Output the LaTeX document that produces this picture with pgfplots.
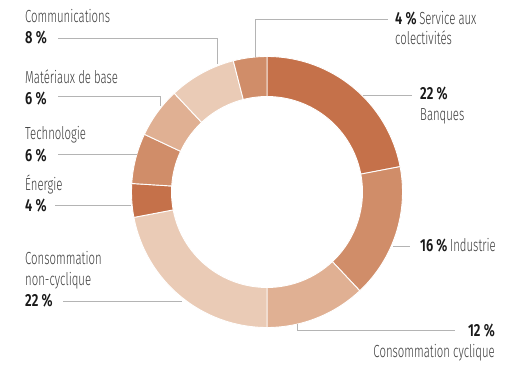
\documentclass[border=0pt]{standalone}
\usepackage{fontspec}
\usepackage{pgfplots}
\usepackage{pgfplotstable}
\pgfplotsset{compat=1.18}
\setmainfont{Fira Sans}
\newfontfamily\lightfont{Fira Sans Light}[FakeStretch=0.65]
\newfontfamily\boldfont{Fira Sans SemiBold}[FakeStretch=0.74]
\definecolor{cA}{HTML}{C5714A}
\definecolor{cB}{HTML}{D08D69}
\definecolor{cC}{HTML}{E0B093}
\definecolor{cD}{HTML}{EACBB6}
\definecolor{leader}{HTML}{B4B4B4}
\definecolor{txt}{HTML}{3A3A3A}
% sector shares (%), clockwise from 12 o'clock
\pgfplotstableread{
name value color
Banques 22 cA
Industrie 16 cB
Cyclique 12 cC
NonCyclique 22 cD
Energie 4 cA
Technologie 6 cB
Materiaux 6 cC
Communications 8 cD
Service 4 cB
}\sectors
\newcommand{\nm}[1]{{\lightfont\fontsize{17.5}{20}\selectfont\color{txt}#1}}
\newcommand{\pc}[1]{{\boldfont\fontsize{17.5}{20}\selectfont\color{black!90}#1}}
\begin{document}
\begin{tikzpicture}
\pgfplotstablegetrowsof{\sectors}
\pgfmathtruncatemacro\lastrow{\pgfplotsretval-1}
\xdef\cum{90}
\pgfplotsforeachungrouped \i in {0,...,\lastrow}{%
  \pgfplotstablegetelem{\i}{value}\of\sectors
  \let\v\pgfplotsretval
  \pgfplotstablegetelem{\i}{color}\of\sectors
  \expandafter\xdef\csname col\i\endcsname{\pgfplotsretval}%
  \expandafter\xdef\csname sa\i\endcsname{\cum}%
  \pgfmathsetmacro\nxt{\cum-3.6*\v}%
  \expandafter\xdef\csname ea\i\endcsname{\nxt}%
  \xdef\cum{\nxt}%
}
\begin{axis}[x=1pt,y=1pt,xmin=0,xmax=527,ymin=0,ymax=365,
  scale only axis,hide axis,clip=false]
\path (axis cs:0,0) rectangle (axis cs:527,365);
\pgfplotsinvokeforeach{0,...,8}{
  \fill[\csname col#1\endcsname,draw=white,line width=0.9pt]
    (axis cs:267,173) ++(\csname sa#1\endcsname:135.5pt)
    arc[start angle=\csname sa#1\endcsname,end angle=\csname ea#1\endcsname,radius=135.5pt]
    -- ++(\csname ea#1\endcsname:-40pt)
    arc[start angle=\csname ea#1\endcsname,end angle=\csname sa#1\endcsname,radius=95.5pt]
    -- cycle;
}
% leader lines (image y -> 365 - y)
\begin{scope}[leader,line width=0.6pt]
\draw (axis cs:58,327) -- (axis cs:217,327) -- (axis cs:217,301);
\draw (axis cs:255,308) -- (axis cs:255,346) -- (axis cs:388,346);
\draw (axis cs:363,270) -- (axis cs:412,270);
\draw (axis cs:393,119) -- (axis cs:410,119);
\draw (axis cs:297,41) -- (axis cs:297,35) -- (axis cs:455,35);
\draw (axis cs:63,64) -- (axis cs:182,64);
\draw (axis cs:55,159.3) -- (axis cs:131,159.3);
\draw (axis cs:58,210.7) -- (axis cs:137,210.7);
\draw (axis cs:58,268.3) -- (axis cs:160,268.3) -- (axis cs:160,259);
\end{scope}
% labels
\node[anchor=base west,inner sep=0] at (axis cs:25,342.3) {\nm{Communications}};
\node[anchor=base west,inner sep=0] at (axis cs:25,321.7) {\pc{8 \%}};
\node[anchor=base west,inner sep=0] at (axis cs:25,281.7) {\nm{Matériaux de base}};
\node[anchor=base west,inner sep=0] at (axis cs:25,261) {\pc{6 \%}};
\node[anchor=base west,inner sep=0] at (axis cs:25,225.7) {\nm{Technologie}};
\node[anchor=base west,inner sep=0] at (axis cs:25,203.3) {\pc{6 \%}};
\node[anchor=base west,inner sep=0] at (axis cs:25,175) {\nm{Énergie}};
\node[anchor=base west,inner sep=0] at (axis cs:25,154) {\pc{4 \%}};
\node[anchor=base west,inner sep=0] at (axis cs:25,101) {\nm{Consommation}};
\node[anchor=base west,inner sep=0] at (axis cs:25,80) {\nm{non-cyclique}};
\node[anchor=base west,inner sep=0] at (axis cs:25,58.3) {\pc{22 \%}};
\node[anchor=base west,inner sep=0] at (axis cs:395,340.7) {\pc{4 \%} \nm{Service aux}};
\node[anchor=base west,inner sep=0] at (axis cs:395,320) {\nm{colectivités}};
\node[anchor=base west,inner sep=0] at (axis cs:420,265.7) {\pc{22 \%}};
\node[anchor=base west,inner sep=0] at (axis cs:420,245) {\nm{Banques}};
\node[anchor=base west,inner sep=0] at (axis cs:420,113.3) {\pc{16 \%} \nm{Industrie}};
\node[anchor=base east,inner sep=0] at (axis cs:495,28.3) {\pc{12 \%}};
\node[anchor=base east,inner sep=0] at (axis cs:495,8) {\nm{Consommation cyclique}};
\end{axis}
\end{tikzpicture}
\end{document}
